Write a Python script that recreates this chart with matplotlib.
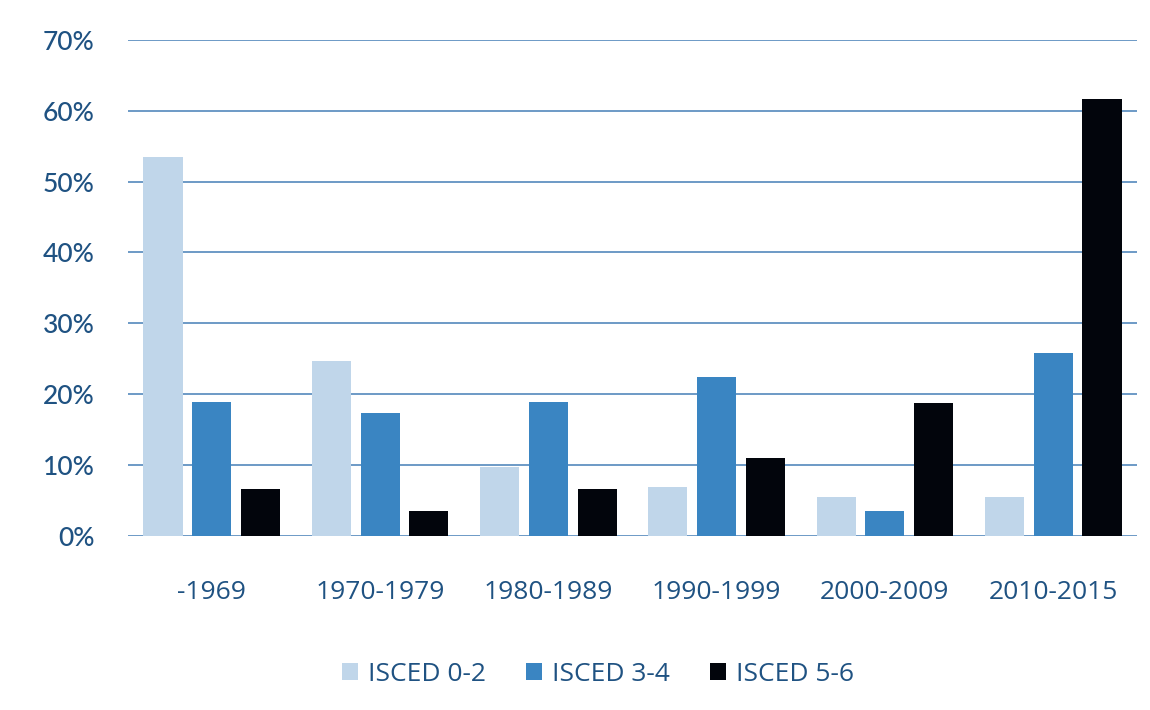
import numpy as np
import matplotlib
matplotlib.use("Agg")
import matplotlib.pyplot as plt
from matplotlib.ticker import PercentFormatter

categories = ['-1969', '1970-1979', '1980-1989', '1990-1999', '2000-2009', '2010-2015']
isced_02 = [53.5, 24.7, 9.7, 6.9, 5.5, 5.5]
isced_34 = [18.9, 17.4, 18.9, 22.4, 3.5, 25.8]
isced_56 = [6.6, 3.5, 6.6, 11.0, 18.8, 61.7]
series_names = ['ISCED 0-2', 'ISCED 3-4', 'ISCED 5-6']

colors = ['#c0d6ea', '#3a85c2', '#02050c']
grid_color = '#6d9ac6'
label_color = '#1f5282'

fig = plt.figure(figsize=(11.5, 7.1), dpi=100)
ax = fig.add_axes([0.111, 0.245, 0.878, 0.699])

x = np.arange(len(categories))
w = 0.232
step = 0.29
for i, (vals, name) in enumerate(zip([isced_02, isced_34, isced_56], series_names)):
    ax.bar(x + (i - 1) * step, vals, width=w, color=colors[i], label=name, zorder=3)

ax.set_xlim(-0.5, 5.5)
ax.set_ylim(0, 70)
ax.set_yticks(np.arange(0, 71, 10))
ax.yaxis.set_major_formatter(PercentFormatter(decimals=0))
ax.grid(axis='y', color=grid_color, linewidth=1.4, zorder=0)
for s in ax.spines.values():
    s.set_visible(False)
ax.tick_params(axis='both', length=0)
ax.tick_params(axis='y', pad=24, labelsize=19, labelcolor=label_color)
ax.tick_params(axis='x', pad=32, labelsize=19, labelcolor=label_color)
ax.set_xticks(x)
ax.set_xticklabels(categories)
for t in ax.get_yticklabels():
    t.set_fontfamily('Lato')
    t.set_fontweight('medium')
for t in ax.get_xticklabels():
    t.set_fontfamily('Open Sans')

leg = fig.legend(loc='center', bbox_to_anchor=(0.52, 0.05), ncol=3, frameon=False,
                 handlelength=0.6, handleheight=0.6, columnspacing=1.5, handletextpad=0.4,
                 prop={'family': 'Open Sans', 'size': 19})
for t in leg.get_texts():
    t.set_color(label_color)

fig.savefig('out.png', dpi=100, facecolor='white')
